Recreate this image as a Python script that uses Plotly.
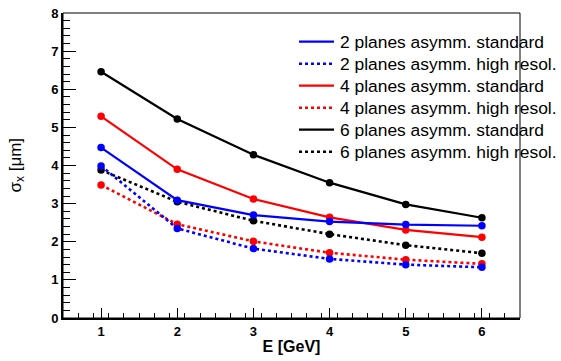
import plotly.graph_objects as go

energy = [1, 2, 3, 4, 5, 6]

labels = [
    "2 planes asymm. standard",
    "2 planes asymm. high resol.",
    "4 planes asymm. standard",
    "4 planes asymm. high resol.",
    "6 planes asymm. standard",
    "6 planes asymm. high resol.",
]
p2_std = [4.47, 3.09, 2.70, 2.53, 2.45, 2.42]
p2_high = [3.99, 2.35, 1.82, 1.55, 1.40, 1.33]
p4_std = [5.29, 3.90, 3.12, 2.64, 2.31, 2.12]
p4_high = [3.49, 2.46, 2.01, 1.71, 1.53, 1.42]
p6_std = [6.46, 5.22, 4.28, 3.55, 2.98, 2.63]
p6_high = [3.88, 3.05, 2.55, 2.20, 1.91, 1.70]

series = [p2_std, p2_high, p4_std, p4_high, p6_std, p6_high]
colors = ["#0000ff", "#0000ff", "#ff0000", "#ff0000", "#000000", "#000000"]
dashes = ["solid", "dot", "solid", "dot", "solid", "dot"]

FONT = "Liberation Sans, Arial, Helvetica, sans-serif"

W, H = 561, 361
ML, MR, MT, MB = 63, 41, 13, 43
PW, PH = W - ML - MR, H - MT - MB


def px_to_paper_x(px):
    return (px - ML) / PW


def px_to_paper_y(py):
    return 1 - (py - MT) / PH


fig = go.Figure()
for vals, col, dsh in reversed(list(zip(series, colors, dashes))):
    fig.add_trace(go.Scatter(
        x=energy, y=vals, mode="lines+markers",
        line=dict(color=col, width=2.2 if dsh == "solid" else 2.6, dash=dsh),
        marker=dict(color=col, size=7.5, symbol="circle"),
        showlegend=False, hoverinfo="skip",
    ))

# manual legend (ROOT style TLegend)
shapes = [dict(type="rect", xref="paper", yref="paper", x0=0, x1=1, y0=0, y1=1,
               line=dict(color="black", width=1), layer="above")]
annotations = []
row0, rowgap = 41.7, 22.0
for i, (lab, col, dsh) in enumerate(zip(labels, colors, dashes)):
    yc = px_to_paper_y(row0 + i * rowgap)
    shapes.append(dict(type="line", xref="paper", yref="paper",
                       x0=px_to_paper_x(299), x1=px_to_paper_x(334), y0=yc, y1=yc,
                       line=dict(color=col, width=2.2 if dsh == "solid" else 2.6, dash=dsh),
                       layer="above"))
    annotations.append(dict(text=lab, xref="paper", yref="paper",
                            x=px_to_paper_x(338), y=yc, xanchor="left", yanchor="middle",
                            showarrow=False, font=dict(size=17.4, family=FONT, color="black")))

annotations.append(dict(
    text="σ<sub>x</sub> [μm]", xref="paper", yref="paper",
    x=px_to_paper_x(16), y=0.5, xanchor="center", yanchor="middle", textangle=-90,
    showarrow=False, font=dict(size=17, family=FONT, color="black"),
))

fig.update_layout(
    width=W, height=H,
    margin=dict(l=ML, r=MR, t=MT, b=MB, autoexpand=False),
    paper_bgcolor="white", plot_bgcolor="white",
    font=dict(family=FONT, color="black"),
    showlegend=False,
    xaxis=dict(
        range=[0.5, 6.5], tickvals=energy, ticktext=[str(e) for e in energy],
        ticks="inside", ticklen=10, tickwidth=1, tickcolor="black",
        showline=True, linewidth=2, linecolor="black", showgrid=False, zeroline=False,
        automargin=False,
        tickfont=dict(size=13, family=FONT, color="black", weight="bold"),
        minor=dict(tick0=0.5, dtick=0.2, ticks="inside", ticklen=5, tickwidth=1, tickcolor="black", showgrid=False),
        title=dict(text="E [GeV]", font=dict(size=16, family=FONT, weight="bold"), standoff=3),
    ),
    yaxis=dict(
        range=[0, 8], dtick=1, tick0=0,
        ticks="inside", ticklen=13, tickwidth=1, tickcolor="black",
        showline=True, linewidth=2, linecolor="black", showgrid=False, zeroline=False,
        automargin=False,
        tickfont=dict(size=13, family=FONT, color="black", weight="bold"),
        minor=dict(dtick=0.2, ticks="inside", ticklen=7, tickwidth=1, tickcolor="black", showgrid=False),
    ),
    shapes=shapes,
    annotations=annotations,
)

fig.write_html("out.html")
